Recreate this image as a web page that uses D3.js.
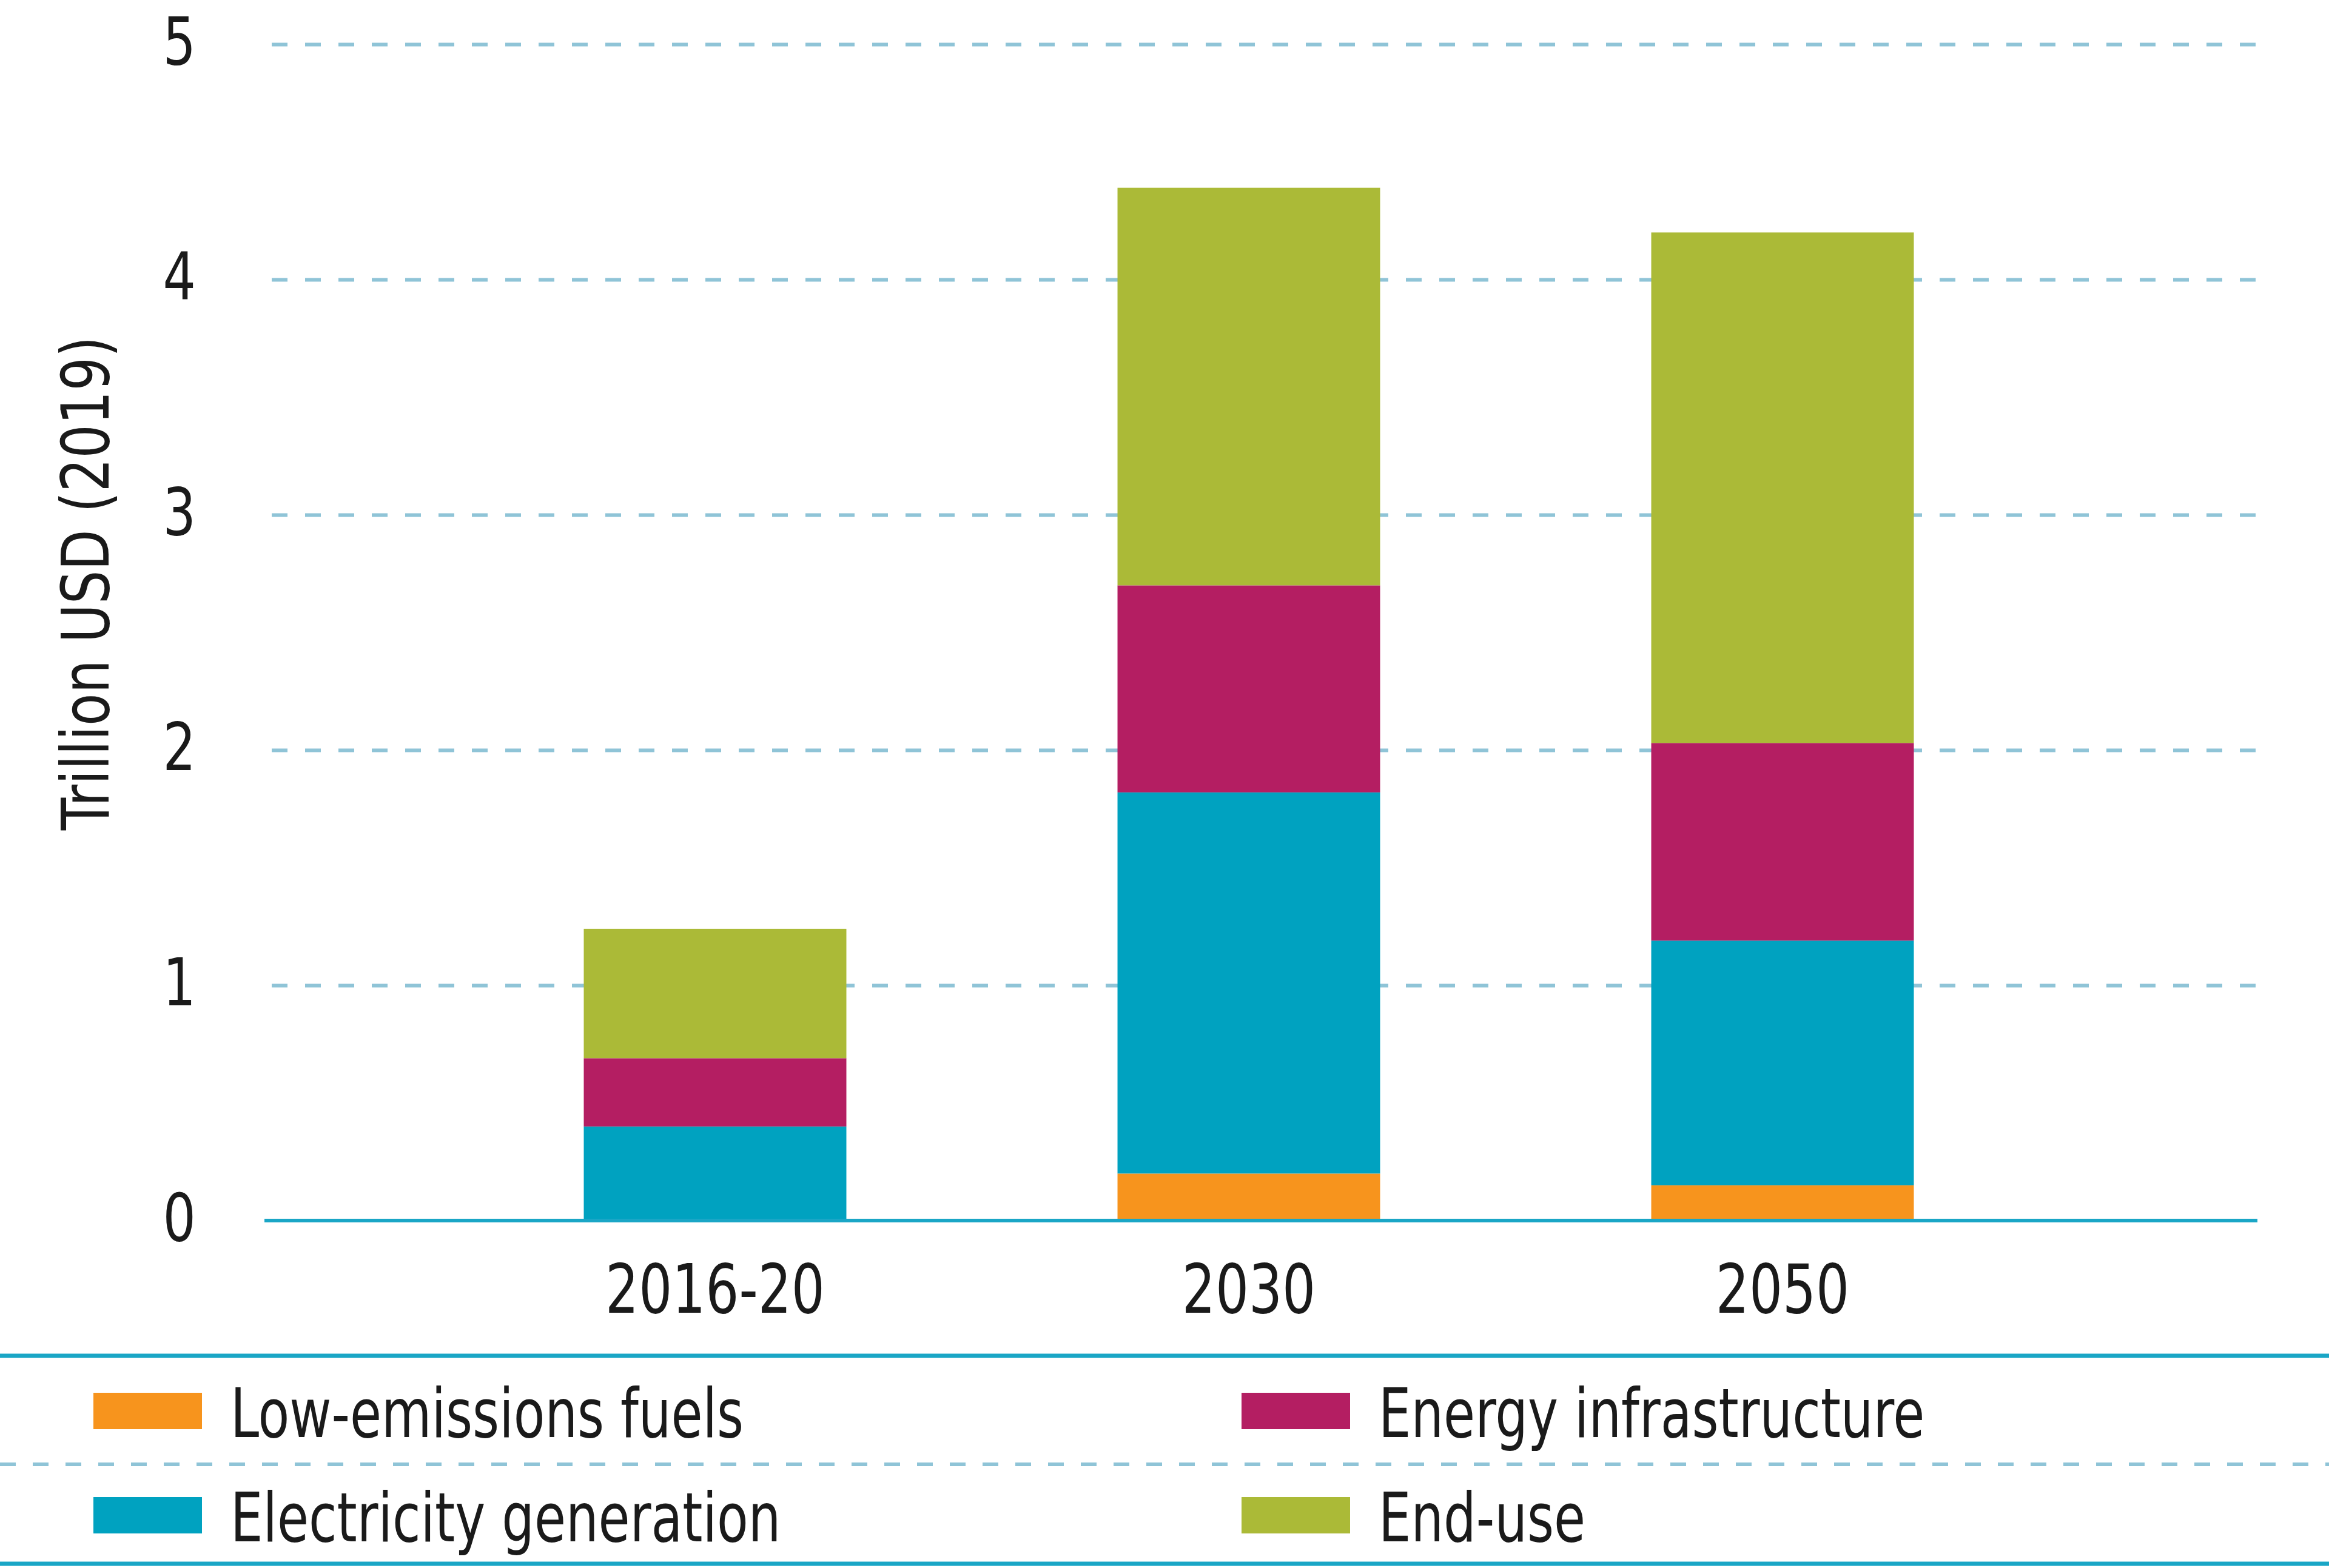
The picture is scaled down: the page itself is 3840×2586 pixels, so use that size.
<!DOCTYPE html>
<html>
<head>
<meta charset="utf-8">
<script src="https://cdn.jsdelivr.net/npm/d3@7"></script>
<style>
  html, body { margin: 0; padding: 0; background: #fff; }
  svg text { font-family: "DejaVu Sans Condensed", "DejaVu Sans", sans-serif; font-stretch: condensed; fill: #1a1a1a; }
</style>
</head>
<body>
<div id="chart"></div>
<script>
// data (trillion USD 2019)
const categories = ["2016-20", "2030", "2050"];
const seriesNames = ["Low-emissions fuels", "Electricity generation", "Energy infrastructure", "End-use"];
const lowEmissionsFuels = [0, 0.20, 0.15];
const electricityGeneration = [0.40, 1.62, 1.04];
const energyInfrastructure = [0.29, 0.88, 0.84];
const endUse = [0.55, 1.69, 2.17];
const yTicks = [0, 1, 2, 3, 4, 5];

const colors = {
  "Low-emissions fuels": "#f7941d",
  "Electricity generation": "#00a2c0",
  "Energy infrastructure": "#b41e62",
  "End-use": "#abba37"
};

const W = 3840, H = 2586;
const plotLeft = 436, plotRight = 3722;

const rows = categories.map((c, i) => ({
  cat: c,
  "Low-emissions fuels": lowEmissionsFuels[i],
  "Electricity generation": electricityGeneration[i],
  "Energy infrastructure": energyInfrastructure[i],
  "End-use": endUse[i]
}));

const stacked = d3.stack().keys(seriesNames)(rows);

const y = d3.scaleLinear().domain([0, 5]).range([2013, 73]);
const x = d3.scaleBand()
  .domain(categories)
  .range([739, 3379])
  .paddingInner(0.508)
  .paddingOuter(0.254);

const svg = d3.select("#chart").append("svg")
  .attr("width", W)
  .attr("height", H);

// grid + y labels
const yAxis = svg.append("g")
  .attr("transform", "translate(" + plotLeft + ",0)")
  .call(d3.axisLeft(y).tickValues(yTicks).tickSize(-(plotRight - plotLeft)).tickPadding(113).tickFormat(d3.format("d")));
yAxis.select(".domain").remove();
yAxis.selectAll(".tick line")
  .attr("stroke", "#8fc4d7")
  .attr("stroke-width", 6)
  .attr("stroke-dasharray", "26,29")
  .attr("stroke-dashoffset", -12)
  .filter(d => d === 0).remove();
yAxis.selectAll(".tick text")
  .attr("font-size", 108)
  .attr("x", -113 / 0.88)
  .attr("transform", "scale(0.88,1)")
  .attr("dy", "0.3em");

// bars
svg.append("g").selectAll("g")
  .data(stacked)
  .join("g")
    .attr("fill", d => colors[d.key])
  .selectAll("rect")
  .data(d => d)
  .join("rect")
    .attr("x", d => x(d.data.cat))
    .attr("width", x.bandwidth())
    .attr("y", d => y(d[1]))
    .attr("height", d => y(d[0]) - y(d[1]));

// baseline
svg.append("line")
  .attr("x1", plotLeft).attr("x2", plotRight)
  .attr("y1", y(0)).attr("y2", y(0))
  .attr("stroke", "#1aa6c6")
  .attr("stroke-width", 6);

// x labels
const xAxis = svg.append("g")
  .attr("transform", "translate(0," + y(0) + ")")
  .call(d3.axisBottom(x).tickSize(0).tickPadding(72));
xAxis.select(".domain").remove();
xAxis.selectAll(".tick text")
  .attr("font-size", 112)
  .attr("transform", "scale(0.86,1)");

// y title
svg.append("text")
  .attr("transform", "translate(142,962) rotate(-90) scale(0.9,1)")
  .attr("text-anchor", "middle")
  .attr("dominant-baseline", "central")
  .attr("font-size", 108)
  .text("Trillion USD (2019)");

// legend
svg.append("line")
  .attr("x1", 0).attr("x2", W).attr("y1", 2236).attr("y2", 2236)
  .attr("stroke", "#1aa6c6").attr("stroke-width", 7);
svg.append("line")
  .attr("x1", 0).attr("x2", W).attr("y1", 2415).attr("y2", 2415)
  .attr("stroke", "#8fc4d7").attr("stroke-width", 6)
  .attr("stroke-dasharray", "26,28");
svg.append("line")
  .attr("x1", 0).attr("x2", W).attr("y1", 2579).attr("y2", 2579)
  .attr("stroke", "#1aa6c6").attr("stroke-width", 7);

const legendItems = [
  {name: "Low-emissions fuels", col: 0, row: 0},
  {name: "Energy infrastructure", col: 1, row: 0},
  {name: "Electricity generation", col: 0, row: 1},
  {name: "End-use", col: 1, row: 1}
];
const colX = [154, 2047];
const rowY = [2297, 2469];

const lg = svg.append("g").selectAll("g")
  .data(legendItems)
  .join("g")
    .attr("transform", d => "translate(" + colX[d.col] + "," + rowY[d.row] + ")");
lg.append("rect")
  .attr("width", 179)
  .attr("height", 60)
  .attr("fill", d => colors[d.name]);
lg.append("text")
  .attr("transform", "translate(226,73) scale(0.84,1)")
  .attr("font-size", 112)
  .text(d => d.name);
</script>
</body>
</html>
